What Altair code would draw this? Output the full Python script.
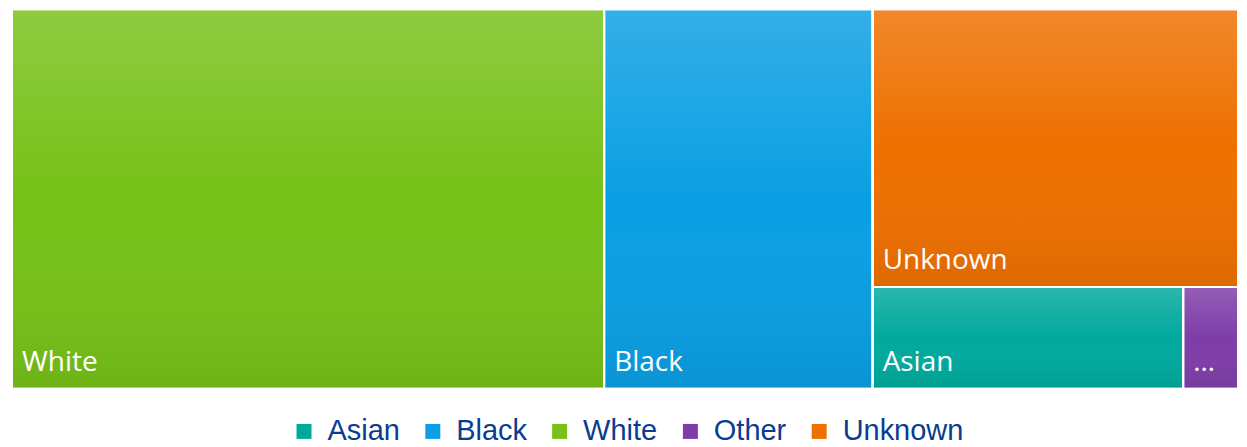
import altair as alt
import pandas as pd

# Data (shares in percent)
categories = ["White", "Black", "Unknown", "Asian", "Other"]
shares = [48.3, 21.9, 21.8, 6.8, 1.2]
legend_order = ["Asian", "Black", "White", "Other", "Unknown"]
legend_colors = ["#00A99D", "#0A9FE3", "#77C118", "#7E3DA8", "#EE7000"]

W, H = 1228.0, 380.0


def worst(row, side):
    s = sum(row)
    return max(max(side * side * r / (s * s), s * s / (side * side * r)) for r in row)


def squarify(areas, x, y, w, h):
    rects = []
    areas = list(areas)
    while areas:
        side = min(w, h)
        row = [areas[0]]
        i = 1
        while i < len(areas) and worst(row + [areas[i]], side) <= worst(row, side):
            row.append(areas[i])
            i += 1
        s = sum(row)
        if w >= h:
            cw = s / h
            yy = y
            for a in row:
                rh = a / cw
                rects.append((x, yy, x + cw, yy + rh))
                yy += rh
            x += cw
            w -= cw
        else:
            rh = s / w
            xx = x
            for a in row:
                rw = a / rh
                rects.append((xx, y, xx + rw, y + rh))
                xx += rw
            y += rh
            h -= rh
        areas = areas[i:]
    return rects


total = sum(shares)
areas = [v / total * W * H for v in shares]
rects = squarify(areas, 0.0, 0.0, W, H)

df = pd.DataFrame({
    "category": categories,
    "value": shares,
    "x0": [r[0] for r in rects],
    "y0": [r[1] for r in rects],
    "x1": [r[2] for r in rects],
    "y1": [r[3] for r in rects],
})
df["label"] = [c if (r[2] - r[0]) > 90 else "…" for c, r in zip(categories, rects)]

xs = alt.Scale(domain=[0, W], nice=False, zero=False)
ys = alt.Scale(domain=[0, H], nice=False, zero=False, reverse=True)

base = alt.Chart(df)
pos = dict(
    x=alt.X("x0:Q", scale=xs, axis=None),
    x2="x1:Q",
    y=alt.Y("y0:Q", scale=ys, axis=None),
    y2="y1:Q",
)

rect = base.mark_rect(stroke="white", strokeWidth=2).encode(
    color=alt.Color(
        "category:N",
        scale=alt.Scale(domain=legend_order, range=legend_colors),
        sort=legend_order,
        legend=alt.Legend(
            orient="none",
            legendX=278,
            legendY=408,
            direction="horizontal",
            title=None,
            padding=0,
            symbolType="square",
            symbolSize=225,
            symbolStrokeWidth=0,
            labelFontSize=29,
            labelFont="Liberation Sans",
            labelColor="#0A3D91",
            labelOffset=9,
            columnPadding=18,
        ),
    ),
    **pos,
)

overlay = base.mark_rect(
    stroke="white",
    strokeWidth=2,
    fill=alt.Gradient(
        gradient="linear",
        x1=0, y1=0, x2=0, y2=1,
        stops=[
            alt.GradientStop(color="rgba(255,255,255,0.17)", offset=0),
            alt.GradientStop(color="rgba(255,255,255,0)", offset=0.5),
            alt.GradientStop(color="rgba(0,0,0,0.07)", offset=1),
        ],
    ),
).encode(**pos)

text = base.mark_text(
    align="left", baseline="alphabetic", dx=10, dy=-18,
    font="Open Sans", fontSize=28, color="white",
).encode(
    x=alt.X("x0:Q", scale=xs, axis=None),
    y=alt.Y("y1:Q", scale=ys, axis=None),
    text="label:N",
)

chart = alt.layer(rect, overlay, text).properties(
    width=W, height=H,
    padding={"left": 3, "top": 0, "right": 0, "bottom": 0},
).configure_view(stroke=None)

chart.save("out.html", embed_options={"renderer": "svg", "actions": False})
